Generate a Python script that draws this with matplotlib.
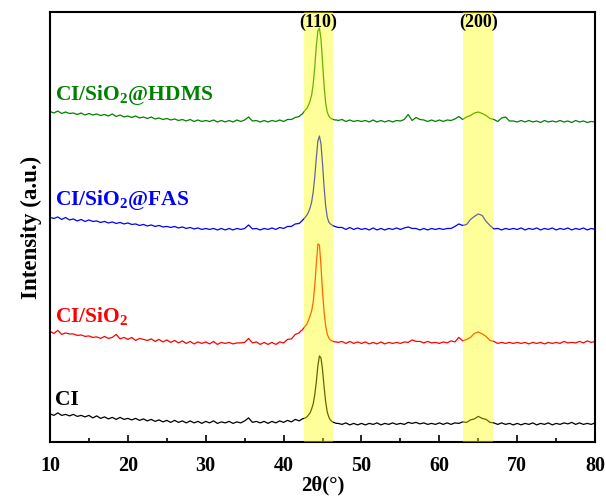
import numpy as np
import matplotlib
matplotlib.use('Agg')
import matplotlib.pyplot as plt

plt.rcParams['font.family'] = ['Liberation Serif', 'DejaVu Serif']
plt.rcParams['font.weight'] = 'bold'
plt.rcParams['mathtext.fontset'] = 'custom'
plt.rcParams['mathtext.rm'] = 'Liberation Serif:bold'
plt.rcParams['mathtext.bf'] = 'Liberation Serif:bold'

# sampling grid of the patterns (2theta, degrees)
two_theta = np.concatenate([np.arange(10.0, 42.01, 0.5),
                            np.arange(42.2, 47.01, 0.2),
                            np.arange(47.5, 80.01, 0.5)])

ci = [28, 26.5, 29, 26.5, 27.5, 26, 27.5, 25.5, 26.5, 25,
      26.5, 24, 26, 23.5, 25, 23, 24.5, 22.5, 24.5, 22.5,
      23.5, 22, 23.5, 21.5, 23, 21, 22.5, 20.5, 22, 20,
      21.5, 19.5, 21.5, 19.5, 21, 19, 21, 19, 20.5, 18.5,
      20.5, 19, 21, 18.5, 20, 19, 20.5, 18.5, 20, 19,
      21, 24, 19.5, 20.5, 19, 20.5, 18.5, 20.5, 19, 21,
      19.5, 21.5, 20, 22.5, 21,
      22, 23, 23.5, 24, 25, 27, 29, 33, 38, 47,
      60, 76, 86, 84, 72, 55, 40, 30, 25, 22,
      20.5, 19.5, 19, 18.5, 18.5,
      17.5, 19, 17, 18.5, 17,
      18.5, 17, 18.5, 17.5, 19, 17, 18.5, 17.5, 19, 17.5,
      18.5, 17.5, 19.5, 18.5, 19.5, 18, 19, 17.5, 18.5, 17.5,
      19, 17.5, 19, 17.5, 19, 18.5, 20, 19.5, 22, 23,
      25.5, 23.5, 22.5, 19.5, 19, 17.5, 19, 17.5, 18.5, 17,
      18.5, 17, 18.5, 17.5, 19, 17, 18.5, 17.5, 19, 17,
      18.5, 17.5, 19, 18, 19.5, 17.5, 19, 17.5, 18.5, 17.5,
      19]

ci_sio2 = [110.5, 108.5, 111.5, 107.5, 109, 108, 108, 106.5, 107, 105.5,
           106, 104.5, 105, 103.5, 105.5, 103.5, 104.5, 107.5, 103, 104.5,
           102.5, 104.5, 101.5, 103.5, 102.5, 101.5, 103, 100.5, 102.5, 100,
           102, 99.5, 101.5, 99, 101, 98.5, 100.5, 98, 100, 98.5,
           100, 98, 100.5, 97.5, 99.5, 98.5, 99.5, 98, 99, 99,
           99.5, 103.5, 99, 100, 97.5, 99.5, 97.5, 99.5, 97.5, 100,
           99, 102.5, 103, 107.5, 109,
           111, 112, 114, 116, 118, 122, 126, 131, 140, 156,
           178, 198, 197, 176, 150, 130, 116, 108, 104, 102,
           101, 100.5, 100, 100, 99.5,
           100.5, 98.5, 100.5, 98.5, 100,
           98.5, 100, 98, 99.5, 98, 100, 98, 99.5, 98.5, 99.5,
           98.5, 100, 99.5, 102, 100.5, 100.5, 99, 100.5, 99, 99.5,
           98.5, 100, 99, 101, 100, 104.5, 101, 102.5, 104.5, 108.5,
           110, 108, 105.5, 101.5, 100.5, 98.5, 99.5, 98.5, 99.5, 98.5,
           99.5, 98.5, 99.5, 98, 99.5, 98.5, 99.5, 98, 99.5, 98.5,
           99.5, 98.5, 100.5, 99, 99.5, 99, 100.5, 99, 101, 99.5,
           100.5]

ci_sio2_fas = [224.5, 223.5, 225, 222.5, 224.5, 222, 223, 221, 222.5, 220.5,
               222, 220.5, 221, 219.5, 220.5, 219, 220, 218.5, 219.5, 218,
               219, 217.5, 218, 216.5, 217.5, 216, 217, 215.5, 216.5, 215,
               215.5, 214.5, 215.5, 214, 215, 213.5, 214.5, 213, 214, 212.5,
               213.5, 212.5, 213.5, 212, 213.5, 212, 213.5, 212, 213.5, 212.5,
               213.5, 217, 213, 213.5, 212, 213.5, 212.5, 214, 212.5, 214.5,
               213.5, 215.5, 215.5, 218, 218.5,
               220, 221.5, 223, 225, 227, 230, 234, 240, 250, 265,
               284, 301, 306, 298, 278, 255, 236, 225, 220, 218,
               217, 216, 215.5, 215, 214.5,
               214.5, 212.5, 214.5, 212.5, 214,
               212.5, 213.5, 212, 214, 212, 213.5, 212, 213.5, 212.5, 214,
               212.5, 214, 215, 213.5, 213.5, 212, 213.5, 212, 213.5, 212.5,
               213.5, 212.5, 213.5, 213.5, 215.5, 218, 216.5, 217.5, 222.5, 225.5,
               228, 226.5, 220.5, 216.5, 213, 213.5, 212, 213.5, 212.5, 213.5,
               212.5, 214, 212, 213.5, 212.5, 214, 212, 213.5, 212.5, 214,
               212, 213.5, 212.5, 214, 212, 213.5, 212.5, 214, 212, 213.5,
               212.5]

ci_sio2_hdms = [330.5, 329, 331, 328.5, 330, 328.5, 329, 327.5, 329, 327,
                328.5, 327, 328, 326.5, 327.5, 326, 328, 325.5, 327, 325,
                326, 324.5, 326, 324, 325, 323.5, 325, 323, 324, 322.5,
                323.5, 322, 323, 321.5, 322.5, 321, 322.5, 320.5, 322, 320.5,
                321.5, 320.5, 322, 320, 321.5, 320, 321.5, 320, 322, 320.5,
                322, 325, 321, 321.5, 320, 321.5, 320, 321.5, 320.5, 322,
                320.5, 322.5, 322.5, 324.5, 325.5,
                327, 328, 330, 332, 334, 337, 341, 347, 358, 375,
                396, 411, 414, 403, 380, 356, 339, 330, 326, 324,
                323, 322.5, 322, 322, 321.5,
                322.5, 320.5, 322, 320.5, 321.5,
                320.5, 321.5, 320, 322, 320, 321.5, 320, 321.5, 320, 321.5,
                321, 322.5, 327.5, 321.5, 324.5, 322.5, 322, 320.5, 322, 320.5,
                322, 320.5, 322, 321.5, 323, 325.5, 322.5, 325, 326.5, 329,
                330, 328.5, 326.5, 323.5, 322.5, 320.5, 324, 325, 321, 321,
                320, 321.5, 320, 321.5, 320, 321, 319.5, 321.5, 320, 321,
                320, 321.5, 320, 321, 319.5, 321.5, 320, 321, 319.5, 320.5,
                320]

series = [(ci, 'black', 'CI', 42),
          (ci_sio2, '#ff0000', r'CI/SiO$_2$', 125),
          (ci_sio2_fas, '#0000ff', r'CI/SiO$_2$@FAS', 242),
          (ci_sio2_hdms, '#008000', r'CI/SiO$_2$@HDMS', 347)]

bands = [(42.6, 46.4, '(110)', 44.4), (63.0, 66.9, '(200)', 65.0)]

fig = plt.figure(figsize=(6.06, 5.01), dpi=100)
ax = fig.add_axes([0.0825, 0.118, 0.8995, 0.858])

for vals, col, name, ty in series:
    ax.plot(two_theta, vals, color=col, lw=0.9, zorder=2)
    ax.text(10.7, ty, name, color=col, fontsize=15.5, fontweight='bold',
            ha='left', va='center')

for lo, hi, lab, cx in bands:
    ax.axvspan(lo, hi, color='yellow', alpha=0.4, lw=0, zorder=3)
    ax.text(cx, 420, lab, fontsize=13, fontweight='bold', ha='center', va='center', zorder=4)

ax.set_xlim(10, 80)
ax.set_ylim(0, 430)
ax.set_xticks([10, 20, 30, 40, 50, 60, 70, 80])
ax.set_xticks(np.arange(15, 80, 10), minor=True)
ax.set_yticks([])
ax.tick_params(axis='x', which='major', direction='in', length=5, width=1.2,
               labelsize=14.5, pad=10)
ax.tick_params(axis='x', which='minor', direction='in', length=3, width=1.2)
for t in ax.get_xticklabels():
    t.set_fontweight('bold')
for s in ax.spines.values():
    s.set_linewidth(1.5)

ax.set_xlabel('2θ(°)', fontsize=15, fontweight='bold', labelpad=0)
ax.set_ylabel('Intensity (a.u.)', fontsize=16.5, fontweight='bold', labelpad=6)

fig.savefig('out.png', dpi=100)
